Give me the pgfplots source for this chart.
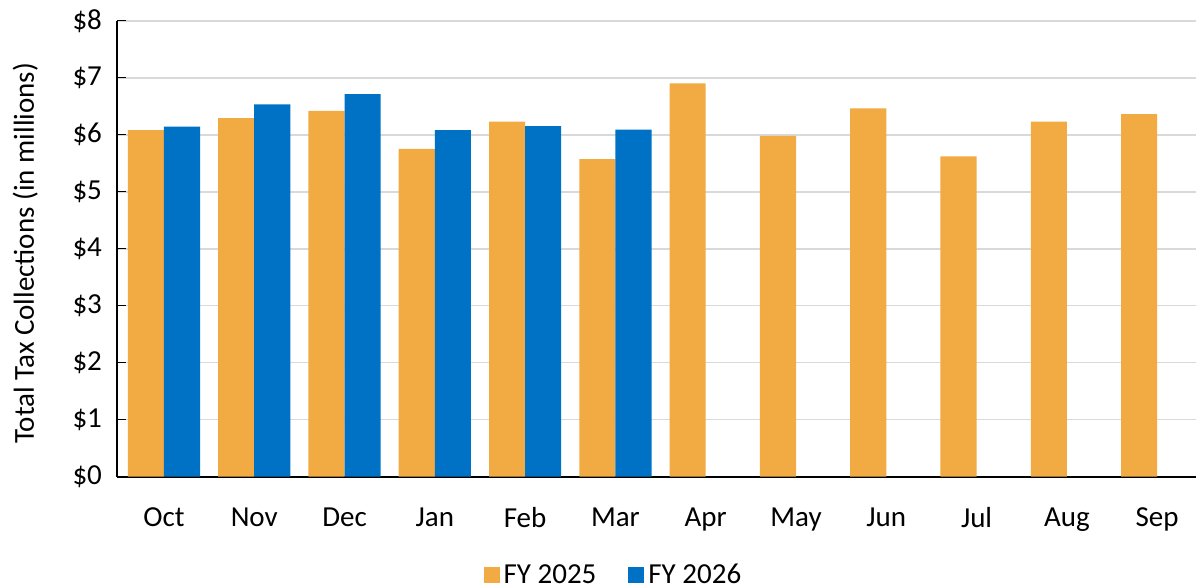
\documentclass[border=0pt]{standalone}
\usepackage{pgfplots}
\pgfplotsset{compat=1.18}
\usepackage{fontspec}
\setmainfont{Carlito}

\definecolor{fyorange}{RGB}{242,171,66}
\definecolor{fyblue}{RGB}{0,114,198}
\definecolor{gridgray}{RGB}{217,217,217}

% monthly collections, $ millions
\pgfplotstableread{
x  fy25
0  6.08
1  6.29
2  6.42
3  5.75
4  6.23
5  5.57
6  6.90
7  5.98
8  6.46
9  5.62
10 6.23
11 6.36
}\fyone
\pgfplotstableread{
x  fy26
0  6.14
1  6.53
2  6.71
3  6.08
4  6.15
5  6.09
}\fytwo

\begin{document}
\begin{tikzpicture}
  \begin{axis}[
    at={(58.5pt,55.65pt)}, anchor=south west,
    scale only axis,
    width=539.5pt, height=228pt,
    font=\fontsize{14.5}{17}\selectfont,
    ybar, bar width=0.4,
    xmin=-0.52, xmax=11.43,
    ymin=0, ymax=8,
    xtick={0,...,11},
    xticklabels={Oct,Nov,Dec,Jan,Feb,Mar,Apr,May,Jun,Jul,Aug,Sep},
    major x tick style={draw=none},
    xticklabel style={yshift=-12pt},
    ytick={0,...,8},
    yticklabels={\$0,\$1,\$2,\$3,\$4,\$5,\$6,\$7,\$8},
    yticklabel style={xshift=-4pt},
    tick align=inside,
    major tick length=4.5pt,
    major y tick style={black, line width=0.7pt},
    ymajorgrids,
    major grid style={gridgray, line width=0.8pt},
    axis x line*=bottom, axis y line*=left,
    x axis line style={black, line width=1pt, -},
    y axis line style={black, line width=0.7pt, -},
    ylabel={Total Tax Collections (in millions)},
    ylabel style={at={(axis description cs:-0.085,0.49)}, anchor=center},
    legend columns=2,
    legend style={at={(axis description cs:0.461,-0.216)}, anchor=center,
      draw=none, fill=none, font=\fontsize{14.5}{17}\selectfont,
      /tikz/every even column/.append style={column sep=14pt}},
    legend image code/.code={\fill[#1] (0pt,-4pt) rectangle (8pt,4pt);},
  ]
    \addplot[fill=fyorange, draw=none, bar shift=-0.2] table[x=x, y=fy25] {\fyone};
    \addlegendentry{FY 2025}
    \addplot[fill=fyblue, draw=none, bar shift=0.2] table[x=x, y=fy26] {\fytwo};
    \addlegendentry{FY 2026}
  \end{axis}
  \pgfresetboundingbox
  \path (0,0) rectangle (598pt,294pt);
\end{tikzpicture}
\end{document}
